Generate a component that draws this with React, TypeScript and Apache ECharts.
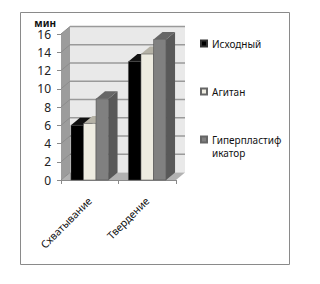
import React, { useEffect, useRef } from "react";
import * as echarts from "echarts";

const categories = ["Схватывание", "Твердение"];
const seriesNames = ["Исходный", "Агитан", "Гиперпластификатор"];
const ishodny = [6.0, 13.0];
const agitan = [6.2, 13.8];
const giper = [8.9, 15.4];
const ticks = [0, 2, 4, 6, 8, 10, 12, 14, 16];

const DX = 9;
const DY = 7.5;
const FONT = "'Noto Sans', sans-serif";

function wallItem(params: any, api: any) {
  const cs = params.coordSys;
  const v = api.value(0);
  const y = api.coord([0, v])[1];
  const children: any[] = [];
  if (params.dataIndex === 0) {
    const l = cs.x, r = cs.x + cs.width, t = cs.y, b = cs.y + cs.height;
    children.push(
      { type: "polygon", shape: { points: [[l + DX, t - DY], [r + DX, t - DY], [r + DX, b - DY], [l + DX, b - DY]] }, style: { fill: "#e9e9e9" } },
      { type: "polygon", shape: { points: [[l, t], [l + DX, t - DY], [l + DX, b - DY], [l, b]] }, style: { fill: "#9c9c9c" } },
      { type: "polygon", shape: { points: [[l, b], [l + DX, b - DY], [r + DX, b - DY], [r, b]] }, style: { fill: "#b2b2b2" } }
    );
  }
  if (params.dataIndex > 0) {
    children.push({ type: "line", shape: { x1: cs.x + DX, y1: y - DY, x2: cs.x + cs.width + DX, y2: y - DY }, style: { stroke: "#9a9a9a", lineWidth: 1.4 } });
  }
  children.push({ type: "line", shape: { x1: cs.x, y1: y, x2: cs.x + DX, y2: y - DY }, style: { stroke: "#8c8c8c", lineWidth: 1 } });
  return { type: "group", children };
}

function barRenderer(index: number, front: string, top: string, side: string) {
  return (_params: any, api: any) => {
    const cat = api.value(0);
    const [cx, y] = api.coord([cat, api.value(1)]);
    const y0 = api.coord([cat, 0])[1];
    const band = api.size([1, 0])[0];
    const w = band * 0.218;
    const x1 = cx - 1.5 * w + index * w;
    const x2 = x1 + w;
    return {
      type: "group",
      children: [
        { type: "polygon", shape: { points: [[x2, y], [x2 + DX, y - DY], [x2 + DX, y0 - DY], [x2, y0]] }, style: { fill: side } },
        { type: "polygon", shape: { points: [[x1, y], [x1 + DX, y - DY], [x2 + DX, y - DY], [x2, y]] }, style: { fill: top } },
        { type: "rect", shape: { x: x1, y, width: w, height: y0 - y }, style: { fill: front, stroke: "#4a4a4a", lineWidth: 0.5 } },
      ],
    };
  };
}

function barSeries(i: number, values: number[], front: string, top: string, side: string, border: string) {
  return {
    type: "custom",
    name: seriesNames[i],
    coordinateSystem: "cartesian2d",
    renderItem: barRenderer(i, front, top, side),
    encode: { x: 0, y: 1 },
    itemStyle: { color: front, borderColor: border, borderWidth: 1 },
    z: 3 + i,
    data: values.map((v, c) => [c, v]),
  };
}

export default function App() {
  const ref = useRef<HTMLDivElement>(null);
  useEffect(() => {
    document.body.style.margin = "0";
    const chart = echarts.init(ref.current!, undefined, { renderer: "svg" });
    chart.setOption({
      animation: false,
      backgroundColor: "#ffffff",
      grid: { left: 61, top: 34, width: 115, height: 146, containLabel: false },
      graphic: [
        { type: "rect", z: -1, shape: { x: 20.5, y: 12.5, width: 269, height: 252 }, style: { fill: "#ffffff", stroke: "#8a8a8a", lineWidth: 1 } },
      ],
      legend: {
        orient: "vertical",
        left: 195,
        top: 19,
        itemWidth: 6,
        itemHeight: 6,
        itemGap: 9,
        textStyle: { fontFamily: FONT, fontSize: 10, color: "#111111", lineHeight: 13 },
        formatter: (n: string) => (n === seriesNames[2] ? "\nГиперпластиф\nикатор" : "\n" + n + "\n"),
        data: [
          { name: seriesNames[0], icon: "rect" },
          { name: seriesNames[1], icon: "rect" },
          { name: seriesNames[2], icon: "rect" },
        ],
      },
      xAxis: {
        type: "category",
        data: categories,
        axisLine: { lineStyle: { color: "#8a8a8a" } },
        axisTick: { show: true, length: 4, lineStyle: { color: "#8a8a8a" } },
        axisLabel: { rotate: 45, margin: 19, fontFamily: FONT, fontSize: 10.5, color: "#111111" },
      },
      yAxis: {
        type: "value",
        min: 0,
        max: 16,
        interval: 2,
        name: "мин",
        nameLocation: "end",
        nameGap: 6,
        nameTextStyle: { fontFamily: FONT, fontSize: 10, lineHeight: 10, fontWeight: "bold", color: "#111111", align: "right", padding: [0, 5, 0, 0] },
        axisLine: { show: true, lineStyle: { color: "#8a8a8a" } },
        axisTick: { show: true, length: 4, lineStyle: { color: "#8a8a8a" } },
        axisLabel: { margin: 10, fontFamily: FONT, fontSize: 12, lineHeight: 12, color: "#222222" },
        splitLine: { show: false },
      },
      series: [
        { type: "custom", name: "стенки", coordinateSystem: "cartesian2d", renderItem: wallItem, silent: true, z: 1, encode: { y: 0 }, data: ticks.map((t) => [t]) },
        barSeries(0, ishodny, "#000000", "#111111", "#1a1a1a", "#333333"),
        barSeries(1, agitan, "#eeece1", "#b5b2a6", "#8f8d85", "#666666"),
        barSeries(2, giper, "#808080", "#666666", "#595959", "#666666"),
      ],
    });
    return () => chart.dispose();
  }, []);
  return <div ref={ref} style={{ width: 320, height: 284 }} />;
}
